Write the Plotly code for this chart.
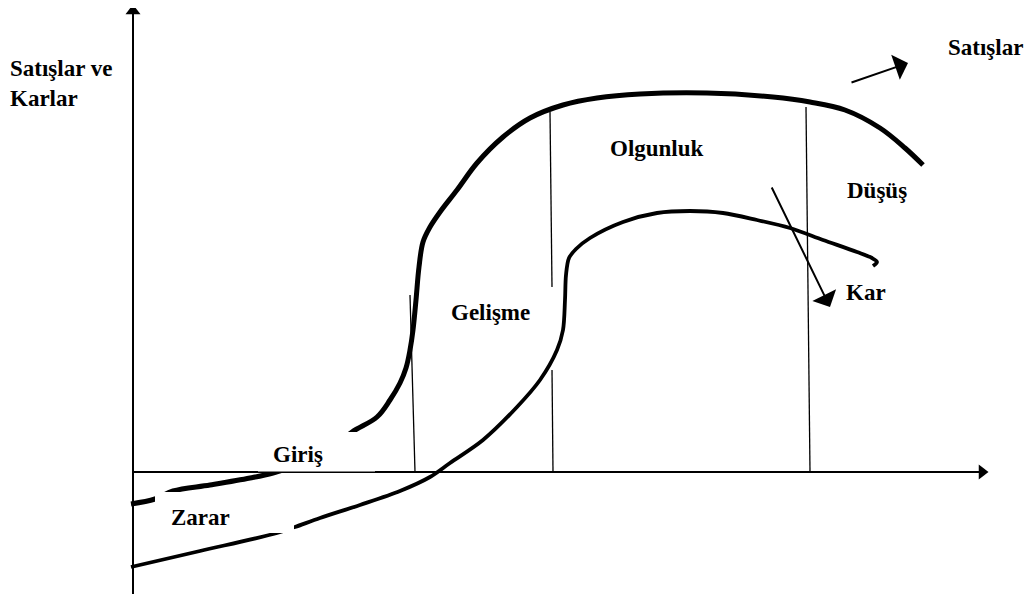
import plotly.graph_objects as go

# Diagram coordinates (pixel space of the 1032x594 picture, y grows downward)
sales_x = [131, 155, 173, 210, 250, 273, 300, 330, 352, 377, 390, 400, 406, 410, 413, 416, 419, 423, 430, 440, 457, 477, 503, 530, 563, 597, 640, 707, 773, 810, 845, 880, 905, 923]
sales_y = [504, 499, 491, 485, 478, 473, 464, 449, 432, 417, 400, 383, 368, 350, 330, 300, 267, 242, 227, 212, 190, 163, 137, 118, 105, 98, 94, 93, 97, 102, 110, 128, 148, 165]

profit_x = [131, 200, 277, 295, 320, 360, 400, 430, 450, 483, 517, 540, 557, 563, 565, 566, 569, 576, 590, 623, 657, 690, 723, 757, 790, 823, 857, 872, 877, 873]
profit_y = [567, 551, 533, 527, 518, 505, 491, 477, 463, 440, 407, 380, 350, 330, 300, 275, 258, 249, 238, 222, 213, 211, 213, 220, 228, 240, 252, 258, 262, 266]

# stage divider lines (x0, y0, x1, y1)
divider_x0 = [410, 550, 552, 806]
divider_y0 = [295, 112, 370, 107]
divider_x1 = [415, 552, 553, 810]
divider_y1 = [472, 287, 472, 471]

# axes
axis_origin = (133, 472)
yaxis_top = 5
yaxis_bottom = 594
xaxis_end = 988

# white label boxes hiding parts of the curves (x0, y0, x1, y1)
mask_boxes = [(155, 492, 294, 533), (258, 432, 375, 471.5)]

labels = ["Satışlar ve<br>Karlar", "Satışlar", "Olgunluk", "Düşüş", "Kar", "Gelişme", "Giriş", "Zarar"]
label_x = [8, 1025, 657, 877, 866, 490, 298, 200]
label_y = [83, 47, 148, 190, 292, 312, 454, 517]
label_anchor = ["left", "right", "center", "center", "center", "center", "center", "center"]

# arrows: (tail x, tail y, tip x, tip y)
arrows = [(850, 83, 908, 63), (771, 186, 830, 307)]

# the page puts the figure 8px from the window corner
OFFSET = 8

fig = go.Figure()

# axes lines
fig.add_trace(go.Scatter(x=[axis_origin[0], axis_origin[0]], y=[yaxis_bottom, yaxis_top + 8], mode="lines",
                         line=dict(color="black", width=2), hoverinfo="skip"))
fig.add_trace(go.Scatter(x=[axis_origin[0], xaxis_end - 8], y=[axis_origin[1], axis_origin[1]], mode="lines",
                         line=dict(color="black", width=2), hoverinfo="skip"))
# arrow heads of axes
fig.add_trace(go.Scatter(x=[axis_origin[0]], y=[yaxis_top + 6], mode="markers",
                         marker=dict(symbol="triangle-up", size=13, color="black"), hoverinfo="skip"))
fig.add_trace(go.Scatter(x=[xaxis_end - 6], y=[axis_origin[1]], mode="markers",
                         marker=dict(symbol="triangle-right", size=13, color="black"), hoverinfo="skip"))

# divider lines
for x0, y0, x1, y1 in zip(divider_x0, divider_y0, divider_x1, divider_y1):
    fig.add_trace(go.Scatter(x=[x0, x1], y=[y0, y1], mode="lines",
                             line=dict(color="black", width=1.3), hoverinfo="skip"))

# curves
fig.add_trace(go.Scatter(x=sales_x, y=sales_y, mode="lines",
                         line=dict(color="black", width=5, shape="spline", smoothing=1.0), hoverinfo="skip"))
fig.add_trace(go.Scatter(x=profit_x, y=profit_y, mode="lines",
                         line=dict(color="black", width=3.8, shape="spline", smoothing=0.9), hoverinfo="skip"))

# masks
for x0, y0, x1, y1 in mask_boxes:
    fig.add_shape(type="rect", x0=x0, y0=y0, x1=x1, y1=y1, fillcolor="white",
                  line=dict(width=0), layer="above")

# labels
for t, x, y, a in zip(labels, label_x, label_y, label_anchor):
    fig.add_annotation(x=x, y=y, text=t, showarrow=False, xanchor=a, yanchor="middle", align="left",
                       font=dict(family="Liberation Serif", size=23, color="black", weight="bold"))

# arrows
for tx, ty, hx, hy in arrows:
    fig.add_annotation(x=hx, y=hy, ax=tx, ay=ty, xref="x", yref="y", axref="x", ayref="y",
                       text="", showarrow=True, arrowhead=1, arrowsize=2.2, arrowwidth=2, arrowcolor="black")

fig.update_layout(width=1032 - OFFSET, height=594 - OFFSET, margin=dict(l=0, r=0, t=0, b=0),
                  paper_bgcolor="white", plot_bgcolor="white", showlegend=False,
                  xaxis=dict(range=[OFFSET, 1032], visible=False, fixedrange=True),
                  yaxis=dict(range=[594, OFFSET], visible=False, fixedrange=True))

fig.write_html("out.html")
